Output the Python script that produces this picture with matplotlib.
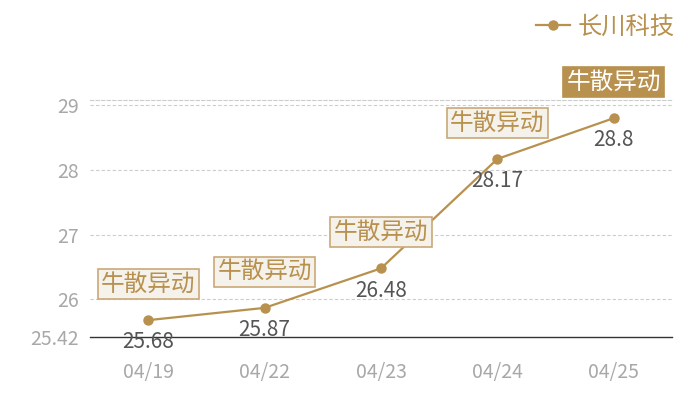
import matplotlib
matplotlib.use("Agg")
import matplotlib.pyplot as plt
from matplotlib.lines import Line2D

plt.rcParams['font.family'] = ['Noto Sans CJK SC', 'DejaVu Sans']

DATES = ["04/19", "04/22", "04/23", "04/24", "04/25"]
PRICES = [25.68, 25.87, 26.48, 28.17, 28.8]
EVENT = "牛散异动"
STOCK = "长川科技"
Y_MIN = 25.42
Y_MAX = 29.08
Y_TICKS = [25.42, 26, 27, 28, 29]

GOLD = "#b8914f"
LIGHT = "#f5f1eb"
EDGE = "#caa877"
GRAY = "#a8a8a8"

fig = plt.figure(figsize=(7, 4), dpi=100)
ax = fig.add_axes([90 / 700, 1 - 337 / 400, 582 / 700, 237 / 400])

x = list(range(len(DATES)))
ax.plot(x, PRICES, color=GOLD, linewidth=1.6, marker="o", markersize=6.5, zorder=3)

ax.set_xlim(-0.5, len(DATES) - 0.5)
ax.set_ylim(Y_MIN, Y_MAX)
ax.set_xticks(x)
ax.set_xticklabels(DATES)
ax.set_yticks(Y_TICKS)
ax.set_yticklabels(["25.42", "26", "27", "28", "29"])

for t in Y_TICKS[1:]:
    ax.axhline(t, color="#cccccc", linestyle=(0, (3, 2)), linewidth=0.8, zorder=0)

ax.tick_params(axis="both", length=0, colors=GRAY, labelsize=14)
ax.tick_params(axis="x", pad=18)
ax.tick_params(axis="y", pad=8)
for s in ["left", "right"]:
    ax.spines[s].set_visible(False)
ax.spines["top"].set_color("#cccccc")
ax.spines["top"].set_linestyle((0, (3, 2)))
ax.spines["top"].set_linewidth(0.8)
ax.spines["bottom"].set_color("#333333")
ax.spines["bottom"].set_linewidth(1.0)

for i, v in enumerate(PRICES):
    ax.annotate(f"{v:g}", (i, v), xytext=(0, -16), textcoords="offset points",
                ha="center", va="center", fontsize=15, color="#555555", zorder=4)
    last = i == len(PRICES) - 1
    ax.annotate(EVENT, (i, v), xytext=(0, 26), textcoords="offset points",
                ha="center", va="center", fontsize=17,
                color="white" if last else GOLD,
                bbox=dict(boxstyle="square,pad=0.14",
                          facecolor=GOLD if last else LIGHT,
                          edgecolor=GOLD if last else EDGE, linewidth=1.2),
                zorder=5, annotation_clip=False)

handle = Line2D([], [], color=GOLD, marker="o", markersize=6.5, linewidth=1.6)
leg = fig.legend([handle], [STOCK], loc="upper right", bbox_to_anchor=(0.995, 1.02),
                 frameon=False, fontsize=17.5, handlelength=1.4, handletextpad=0.3)
for txt in leg.get_texts():
    txt.set_color(GOLD)

fig.savefig("out.png", dpi=100)
